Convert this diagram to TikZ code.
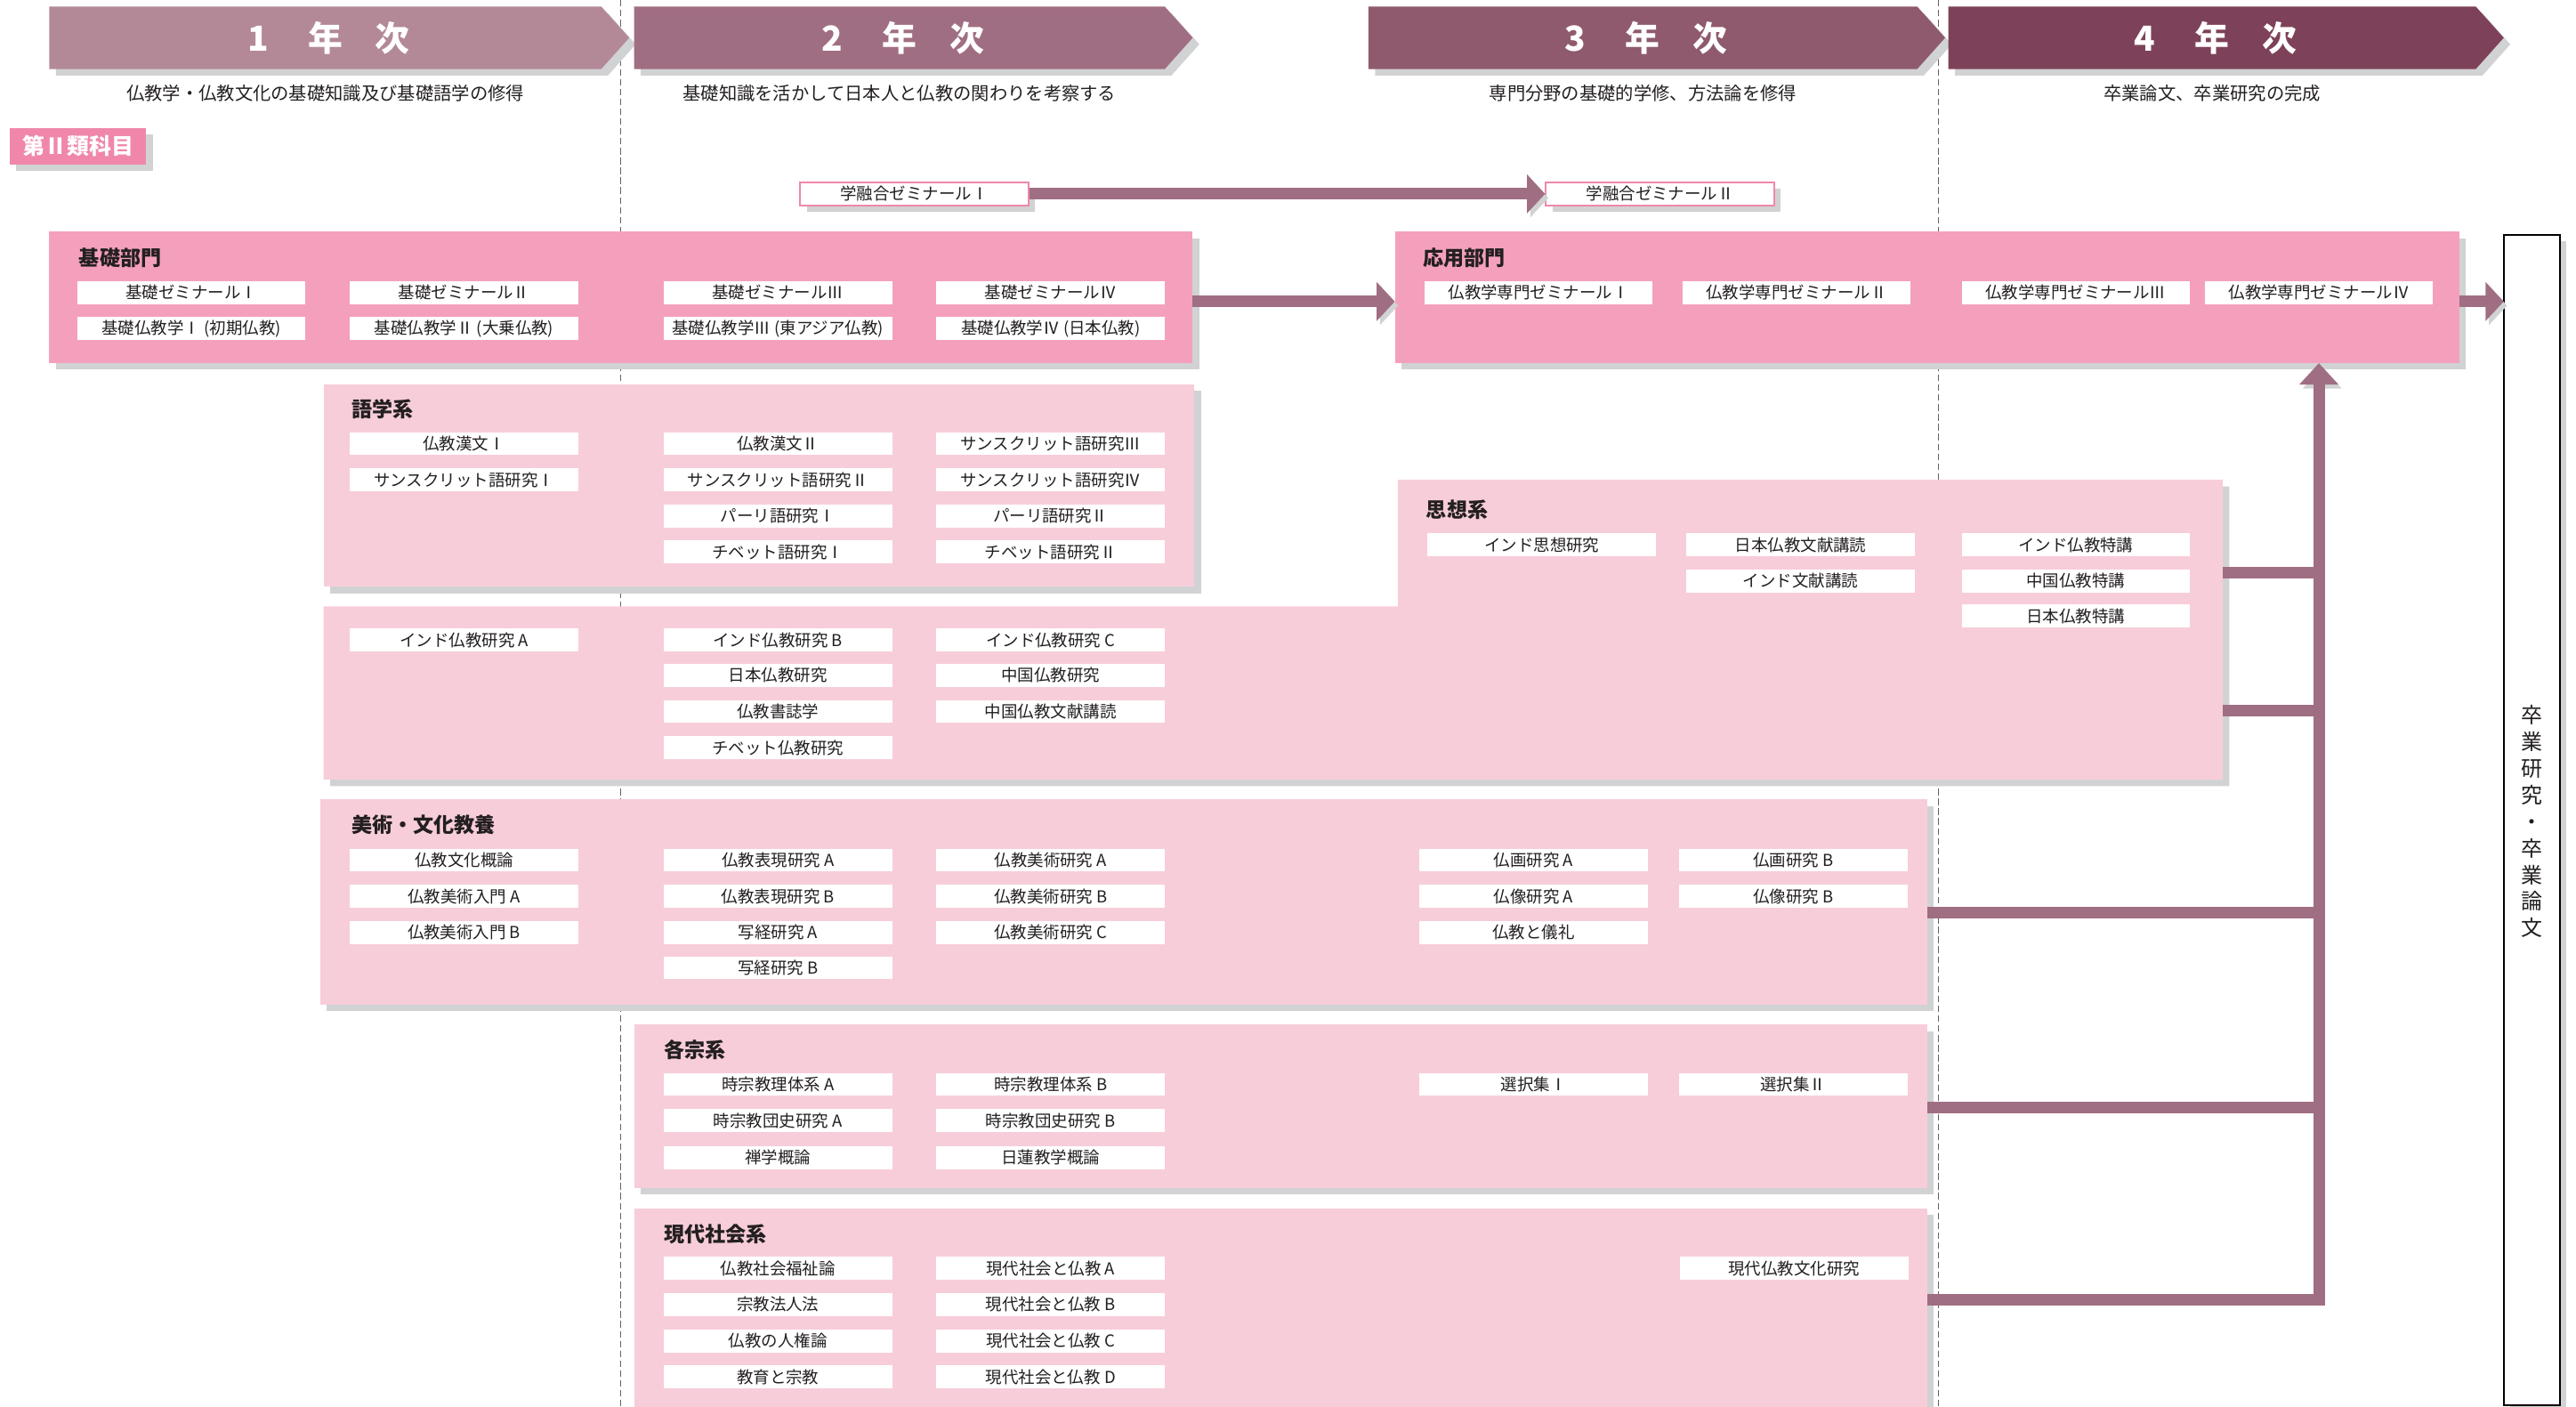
\documentclass[tikz,border=0pt]{standalone}
\usepackage{fontspec}
\setmainfont{Noto Sans CJK JP}
\usepackage{xcolor}
\usetikzlibrary{arrows.meta}
\definecolor{yrone}{HTML}{B38998}
\definecolor{yrtwo}{HTML}{A06E82}
\definecolor{yrthree}{HTML}{8F5A6E}
\definecolor{yrfour}{HTML}{7D4259}
\definecolor{flowc}{HTML}{A06E82}
\definecolor{deeppink}{HTML}{F4A0BD}
\definecolor{palepink}{HTML}{F7CDD9}
\definecolor{tagpink}{HTML}{F087AA}
\definecolor{shadowgray}{HTML}{D1D2D4}
\definecolor{ink}{HTML}{231F20}

\begin{document}
\begin{tikzpicture}[x=1pt,y=-1pt,
  castshadow/.style={preaction={fill=shadowgray,transform canvas={shift={(4pt,-4pt)}}}},
  barshadow/.style={preaction={draw=shadowgray,transform canvas={shift={(2pt,-2.5pt)}}}},
  grp/.style={anchor=north west,inner sep=0pt,outer sep=0pt,castshadow},
  course/.style={fill=white,minimum width=139pt,minimum height=14pt,inner sep=0pt,text=ink,font=\fontsize{10}{12}\selectfont},
  head/.style={anchor=west,inner sep=0pt,text=ink,font=\fontsize{12.5}{14}\selectfont\bfseries},
  yeartxt/.style={text=white,inner sep=0pt,font=\fontsize{21}{24}\selectfont\bfseries},
  aim/.style={text=ink,inner sep=0pt,font=\fontsize{11}{13}\selectfont},
  gyu/.style={fill=white,draw=tagpink,line width=1pt,minimum width=139pt,minimum height=14pt,inner sep=0pt,text=ink,font=\fontsize{10}{12}\selectfont,castshadow},
  flow/.style={draw=flowc,line width=7pt,-{Triangle[width=23pt,length=11pt]},barshadow},
  branch/.style={draw=flowc,line width=7pt,barshadow}]
\useasboundingbox (0,0) rectangle (1568,856);

\draw [dash pattern=on 4pt off 2pt, line width=0.6pt, ink!70] (378,0) -- (378,856);
\draw [dash pattern=on 4pt off 2pt, line width=0.6pt, ink!70] (1180,0) -- (1180,856);

% year banners
\fill [yrone,castshadow] (30,4) -- (366,4) -- (383,23) -- (366,42) -- (30,42) -- cycle;
\fill [yrtwo,castshadow] (386,4) -- (709,4) -- (726,23) -- (709,42) -- (386,42) -- cycle;
\fill [yrthree,castshadow] (833,4) -- (1167,4) -- (1184,23) -- (1167,42) -- (833,42) -- cycle;
\fill [yrfour,castshadow] (1186,4) -- (1507,4) -- (1524,23) -- (1507,42) -- (1186,42) -- cycle;
\node [yeartxt] (yr1) at (198,23) {\makebox[21pt]{1}\hspace{20pt}年\hspace{20pt}次};
\node [yeartxt] (yr2) at (547.5,23) {\makebox[21pt]{2}\hspace{20pt}年\hspace{20pt}次};
\node [yeartxt] (yr3) at (1000,23) {\makebox[21pt]{3}\hspace{20pt}年\hspace{20pt}次};
\node [yeartxt] (yr4) at (1346.5,23) {\makebox[21pt]{4}\hspace{20pt}年\hspace{20pt}次};
\node [aim] (aim1) at (198,57) {仏教学・仏教文化の基礎知識及び基礎語学の修得};
\node [aim] (aim2) at (547.5,57) {基礎知識を活かして日本人と仏教の関わりを考察する};
\node [aim] (aim3) at (1000,57) {専門分野の基礎的学修、方法論を修得};
\node [aim] (aim4) at (1346.5,57) {卒業論文、卒業研究の完成};

\node [fill=tagpink,text=white,minimum width=83pt,minimum height=22pt,inner sep=0pt,castshadow,font=\fontsize{13.5}{15}\selectfont\bfseries] (tag) at (47.5,89) {第Ⅱ類科目};

\node [gyu] (gyu1) at (556.5,118) {学融合ゼミナールⅠ};
\node [gyu] (gyu2) at (1010.5,118) {学融合ゼミナールⅡ};

% group boxes
\node [grp,fill=deeppink,minimum width=696pt,minimum height=80pt] (kiso) at (30,141) {};
\node [grp,fill=deeppink,minimum width=648pt,minimum height=80pt] (ouyou) at (849,141) {};
\node [grp,fill=palepink,minimum width=530pt,minimum height=123pt] (gogaku) at (197,234) {};
\fill [palepink,castshadow] (851,292) -- (1353,292) -- (1353,474.5) -- (197,474.5) -- (197,369) -- (851,369) -- cycle;
\node [grp,fill=palepink,minimum width=978pt,minimum height=125pt] (bijutsu) at (195,486.5) {};
\node [grp,fill=palepink,minimum width=787pt,minimum height=99.5pt] (kakushu) at (386,623.5) {};
\node [grp,fill=palepink,minimum width=787pt,minimum height=140pt] (gendai) at (386,735.5) {};
\node [grp,fill=white,draw=black,line width=1pt,minimum width=34pt,minimum height=712pt] (sotsu) at (1524,143) {};
\node [text=ink,inner sep=0pt,align=center,font=\fontsize{13}{16.2}\selectfont] (sotsutxt) at (1541,500) {卒\\業\\研\\究\\・\\卒\\業\\論\\文};

\node [head] (kisohd) at (48,157) {基礎部門};
\node [head] (ouyouhd) at (866,157) {応用部門};
\node [head] (gogakuhd) at (214,249) {語学系};
\node [head] (shisohd) at (868,310) {思想系};
\node [head] (bijutsuhd) at (214,502) {美術・文化教養};
\node [head] (kakushuhd) at (404,639) {各宗系};
\node [head] (gendaihd) at (404,751) {現代社会系};

% 基礎部門
\node [course] (kz1) at (116.5,178) {基礎ゼミナールⅠ};
\node [course] (kz2) at (282.5,178) {基礎ゼミナールⅡ};
\node [course] (kz3) at (473.5,178) {基礎ゼミナールⅢ};
\node [course] (kz4) at (639.5,178) {基礎ゼミナールⅣ};
\node [course] (kb1) at (116.5,200) {基礎仏教学Ⅰ (初期仏教)};
\node [course] (kb2) at (282.5,200) {基礎仏教学Ⅱ (大乗仏教)};
\node [course] (kb3) at (473.5,200) {基礎仏教学Ⅲ (東アジア仏教)};
\node [course] (kb4) at (639.5,200) {基礎仏教学Ⅳ (日本仏教)};

% 応用部門
\node [course] (oy1) at (936.5,178) {仏教学専門ゼミナールⅠ};
\node [course] (oy2) at (1093.5,178) {仏教学専門ゼミナールⅡ};
\node [course] (oy3) at (1263.5,178) {仏教学専門ゼミナールⅢ};
\node [course] (oy4) at (1411.5,178) {仏教学専門ゼミナールⅣ};

% 語学系
\node [course] (gg1) at (282.5,270) {仏教漢文Ⅰ};
\node [course] (gg2) at (282.5,292) {サンスクリット語研究Ⅰ};
\node [course] (gg3) at (473.5,270) {仏教漢文Ⅱ};
\node [course] (gg4) at (473.5,292) {サンスクリット語研究Ⅱ};
\node [course] (gg5) at (473.5,314) {パーリ語研究Ⅰ};
\node [course] (gg6) at (473.5,336) {チベット語研究Ⅰ};
\node [course] (gg7) at (639.5,270) {サンスクリット語研究Ⅲ};
\node [course] (gg8) at (639.5,292) {サンスクリット語研究Ⅳ};
\node [course] (gg9) at (639.5,314) {パーリ語研究Ⅱ};
\node [course] (gg10) at (639.5,336) {チベット語研究Ⅱ};

% 思想系
\node [course] (ss1) at (938.5,331.5) {インド思想研究};
\node [course] (ss2) at (1096,331.5) {日本仏教文献講読};
\node [course] (ss3) at (1096,353.5) {インド文献講読};
\node [course] (ss4) at (1263.5,331.5) {インド仏教特講};
\node [course] (ss5) at (1263.5,353.5) {中国仏教特講};
\node [course] (ss6) at (1263.5,375) {日本仏教特講};

% 仏教研究
\node [course] (bk1) at (282.5,389.5) {インド仏教研究 A};
\node [course] (bk2) at (473.5,389.5) {インド仏教研究 B};
\node [course] (bk3) at (473.5,411) {日本仏教研究};
\node [course] (bk4) at (473.5,433) {仏教書誌学};
\node [course] (bk5) at (473.5,455) {チベット仏教研究};
\node [course] (bk6) at (639.5,389.5) {インド仏教研究 C};
\node [course] (bk7) at (639.5,411) {中国仏教研究};
\node [course] (bk8) at (639.5,433) {中国仏教文献講読};

% 美術・文化教養
\node [course] (bj1) at (282.5,523.5) {仏教文化概論};
\node [course] (bj2) at (282.5,545.5) {仏教美術入門 A};
\node [course] (bj3) at (282.5,567.5) {仏教美術入門 B};
\node [course] (bj4) at (473.5,523.5) {仏教表現研究 A};
\node [course] (bj5) at (473.5,545.5) {仏教表現研究 B};
\node [course] (bj6) at (473.5,567.5) {写経研究 A};
\node [course] (bj7) at (473.5,589) {写経研究 B};
\node [course] (bj8) at (639.5,523.5) {仏教美術研究 A};
\node [course] (bj9) at (639.5,545.5) {仏教美術研究 B};
\node [course] (bj10) at (639.5,567.5) {仏教美術研究 C};
\node [course] (bj11) at (933.5,523.5) {仏画研究 A};
\node [course] (bj12) at (933.5,545.5) {仏像研究 A};
\node [course] (bj13) at (933.5,567.5) {仏教と儀礼};
\node [course] (bj14) at (1091.5,523.5) {仏画研究 B};
\node [course] (bj15) at (1091.5,545.5) {仏像研究 B};

% 各宗系
\node [course] (ks1) at (473.5,660) {時宗教理体系 A};
\node [course] (ks2) at (473.5,682) {時宗教団史研究 A};
\node [course] (ks3) at (473.5,704.5) {禅学概論};
\node [course] (ks4) at (639.5,660) {時宗教理体系 B};
\node [course] (ks5) at (639.5,682) {時宗教団史研究 B};
\node [course] (ks6) at (639.5,704.5) {日蓮教学概論};
\node [course] (ks7) at (933.5,660) {選択集Ⅰ};
\node [course] (ks8) at (1091.5,660) {選択集Ⅱ};

% 現代社会系
\node [course] (gd1) at (473.5,772) {仏教社会福祉論};
\node [course] (gd2) at (473.5,794) {宗教法人法};
\node [course] (gd3) at (473.5,816) {仏教の人権論};
\node [course] (gd4) at (473.5,838) {教育と宗教};
\node [course] (gd5) at (639.5,772) {現代社会と仏教 A};
\node [course] (gd6) at (639.5,794) {現代社会と仏教 B};
\node [course] (gd7) at (639.5,816) {現代社会と仏教 C};
\node [course] (gd8) at (639.5,838) {現代社会と仏教 D};
\node [course] (gd9) at (1092,772) {現代仏教文化研究};

% arrows
\draw [flow] (gyu1.east) -- (gyu2.west);
\draw [flow] ([yshift=-2.5pt]kiso.east) -- ([yshift=-2.5pt]ouyou.west);
\draw [flow] ([yshift=-2.5pt]ouyou.east) -- ([yshift=-2.5pt]ouyou.east -| sotsu.west);
\coordinate (shisoA) at (1353,348.5);
\coordinate (shisoB) at (1353,432.5);
\coordinate (bijutsuR) at (1173,555.5);
\coordinate (kakushuR) at (1173,674);
\coordinate (gendaiR) at (1173,791);
\draw [branch] (shisoA) -- (shisoA -| oy4);
\draw [branch] (shisoB) -- (shisoB -| oy4);
\draw [branch] (bijutsuR) -- (bijutsuR -| oy4);
\draw [branch] (kakushuR) -- (kakushuR -| oy4);
\draw [flow,line join=miter,-{Triangle[width=23pt,length=13pt]}] (gendaiR) -| (oy4 |- ouyou.south);
\end{tikzpicture}
\end{document}
